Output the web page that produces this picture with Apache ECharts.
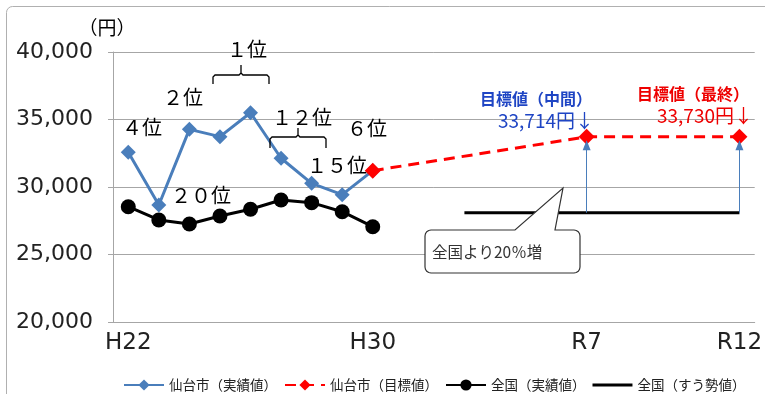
<!DOCTYPE html>
<html>
<head>
<meta charset="utf-8">
<script src="https://cdn.jsdelivr.net/npm/echarts@6/dist/echarts.min.js"></script>
<style>
body{margin:0;background:#fff;}
#chart{width:765px;height:394px;}
</style>
</head>
<body>
<div id="chart"></div>
<script>
// 年度
var years = ['H22','H23','H24','H25','H26','H27','H28','H29','H30','R1','R2','R3','R4','R5','R6','R7','R8','R9','R10','R11','R12'];
var shownYears = ['H22','H30','R7','R12'];
// 仙台市（実績値）
var sendaiActual = [32570,28670,34270,33730,35500,32130,30270,29430,31210];
// 仙台市（目標値） H30 -> R7 -> R12
var sendaiTarget = [null,null,null,null,null,null,null,null,31210,null,null,null,null,null,null,33714,null,null,null,null,33730];
// 全国（実績値）
var nationalActual = [28540,27560,27260,27850,28350,29040,28840,28170,27060];
// 全国（すう勢値） R3 - R12
var nationalTrend = [null,null,null,null,null,null,null,null,null,null,null,28100,28100,28100,28100,28100,28100,28100,28100,28100,28100];

var jp = '"Noto Sans CJK JP", sans-serif';

function fmt(v){
    return String(v).replace(/\B(?=(\d{3})+(?!\d))/g, ',');
}

function rankText(x, y, t){
    return {type:'text', x:x, y:y, z:20, style:{text:t, fontSize:20, fontFamily:jp, fill:'#000', align:'center', verticalAlign:'middle'}};
}

// 角丸の点
function corner(cx, cy, r, a0){
    var pts = [];
    for(var i=0;i<=4;i++){
        var a = (a0 + i*22.5) * Math.PI / 180;
        pts.push([cx + r*Math.cos(a), cy + r*Math.sin(a)]);
    }
    return pts;
}
var callout = [].concat(
    corner(431,236,6,180),
    [[515,230],[563,188],[555,230]],
    corner(574,236,6,270),
    corner(574,267,6,0),
    corner(431,267,6,90)
);

// 凡例用の線だけのアイコン
var lineIcon = 'path://M0,0L0.01,0L0.01,0.01ZM0,5.5L40,5.5L40,8.5L0,8.5ZM0,14L0.01,14L0.01,14.01Z';

var myChart = echarts.init(document.getElementById('chart'));

var option = {
    animation:false,
    backgroundColor:'#fff',
    grid:{left:113, right:8, top:52, bottom:72},
    legend:{
        left:118, top:373,
        itemWidth:40, itemHeight:14, itemGap:7,
        textStyle:{fontSize:13.5, fontFamily:jp, color:'#222'},
        data:['仙台市（実績値）','仙台市（目標値）','全国（実績値）',{name:'全国（すう勢値）', icon:lineIcon}]
    },
    xAxis:{
        type:'category',
        data:years,
        boundaryGap:true,
        axisLine:{lineStyle:{color:'#a6a6a6', width:1}},
        axisTick:{alignWithLabel:true, interval:0, length:5, lineStyle:{color:'#a6a6a6'}},
        axisLabel:{
            interval:0, margin:10, fontSize:23, fontFamily:'"DejaVu Sans"', color:'#222',
            formatter:function(v){ return shownYears.indexOf(v) >= 0 ? v : ''; }
        }
    },
    yAxis:{
        type:'value', min:20000, max:40000, interval:5000,
        axisLine:{show:true, lineStyle:{color:'#a6a6a6'}},
        axisTick:{show:true, length:5, lineStyle:{color:'#a6a6a6'}},
        splitLine:{lineStyle:{color:'#a6a6a6', width:1}},
        axisLabel:{margin:20, fontSize:22, fontFamily:'"DejaVu Sans"', color:'#222', formatter:fmt}
    },
    series:[
        {
            name:'全国（実績値）', type:'line', data:nationalActual,
            symbol:'circle', symbolSize:15,
            lineStyle:{color:'#000', width:3},
            itemStyle:{color:'#000'}
        },
        {
            name:'全国（すう勢値）', type:'line', data:nationalTrend,
            symbol:'none', lineStyle:{color:'#000', width:3}, itemStyle:{color:'#000'},
            markLine:{
                silent:true, symbol:['none','triangle'], symbolSize:[8,10],
                label:{show:false},
                lineStyle:{color:'#4a7ebb', width:1, type:'solid'},
                data:[
                    [{coord:['R7',28100]},{coord:['R7',33100]}],
                    [{coord:['R12',28100]},{coord:['R12',33100]}]
                ]
            }
        },
        {
            name:'仙台市（実績値）', type:'line', data:sendaiActual,
            symbol:'diamond', symbolSize:15,
            lineStyle:{color:'#4a7ebb', width:3},
            itemStyle:{color:'#4a7ebb'}
        },
        {
            name:'仙台市（目標値）', type:'line', data:sendaiTarget, connectNulls:true,
            symbol:'diamond', symbolSize:16,
            lineStyle:{color:'#ff0000', width:3, type:[11,7]},
            itemStyle:{color:'#ff0000'}
        }
    ],
    graphic:[
        // 外枠
        {type:'rect', shape:{x:6.5, y:6.5, width:800, height:420, r:6}, style:{fill:'none', stroke:'#b0b0b0', lineWidth:1}, z:-1},
        {type:'text', x:107, y:28, style:{text:'（円）', fontSize:19, fontFamily:jp, fill:'#000', align:'center', verticalAlign:'middle'}},
        rankText(142,127,'４位'),
        rankText(183,97,'２位'),
        rankText(247,49,'１位'),
        rankText(302,117,'１２位'),
        rankText(337,165,'１５位'),
        rankText(367,128,'６位'),
        rankText(201,195,'２０位'),
        // 括弧
        {type:'polyline', z:20, shape:{points:[[213,84],[213,77],[215,75],[239,75],[241,73],[241,65],[241,73],[243,75],[267,75],[269,77],[269,84]]}, style:{stroke:'#000', lineWidth:1.3, fill:'none'}},
        {type:'polyline', z:20, shape:{points:[[270,148],[270,139],[272,137],[296,137],[298,135],[298,128],[298,135],[300,137],[324,137],[326,139],[326,148]]}, style:{stroke:'#000', lineWidth:1.3, fill:'none'}},
        // 目標値
        {type:'text', x:480, y:99, z:20, style:{text:'目標値（中間）', fontSize:16, fontWeight:'bold', fontFamily:jp, fill:'#1f45c4', align:'left', verticalAlign:'middle'}},
        {type:'text', x:594, y:121, z:20, style:{text:'33,714円↓', fontSize:19, fontFamily:jp, fill:'#1f45c4', align:'right', verticalAlign:'middle'}},
        {type:'text', x:637, y:94, z:20, style:{text:'目標値（最終）', fontSize:16, fontWeight:'bold', fontFamily:jp, fill:'#ee0000', align:'left', verticalAlign:'middle'}},
        {type:'text', x:753, y:116, z:20, style:{text:'33,730円↓', fontSize:19, fontFamily:jp, fill:'#ee0000', align:'right', verticalAlign:'middle'}},
        // 吹き出し
        {type:'polygon', z:30, shape:{points:callout}, style:{fill:'#fff', stroke:'#333', lineWidth:1.2}},
        {type:'text', x:432, y:252, z:31, style:{text:'全国より20％増', fontSize:15.5, fontFamily:jp, fill:'#333', align:'left', verticalAlign:'middle'}}
    ]
};
myChart.setOption(option);
</script>
</body>
</html>
